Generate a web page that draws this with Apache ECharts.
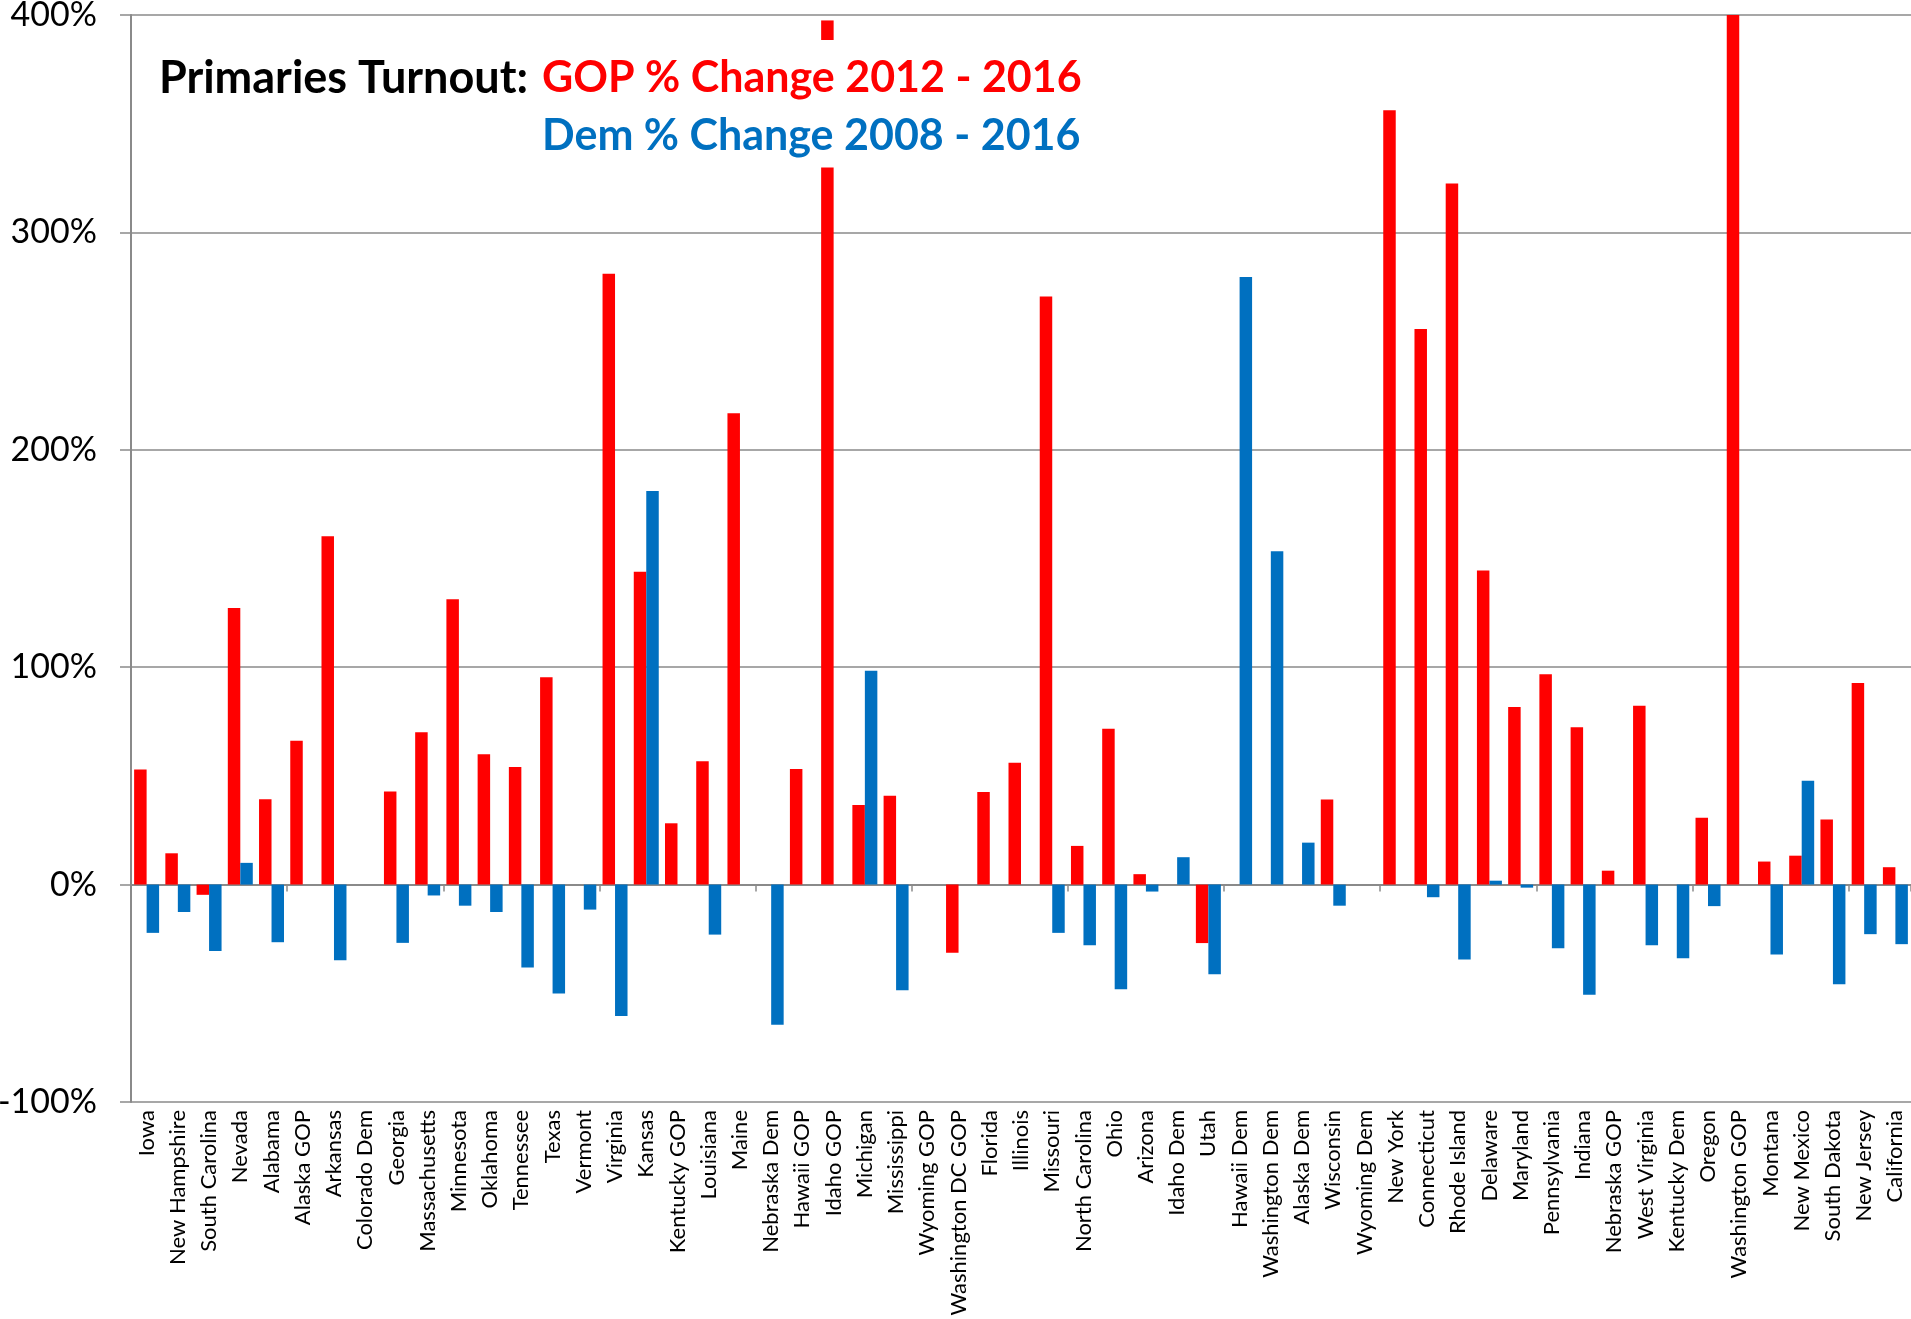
<!DOCTYPE html>
<html>
<head>
<meta charset="utf-8">
<script src="https://cdn.jsdelivr.net/npm/echarts@6/dist/echarts.min.js"></script>
<style>
html,body{margin:0;padding:0;background:#fff;}
#chart{width:1911px;height:1319px;}
</style>
</head>
<body>
<div id="chart"></div>
<script>
const categories = ['Iowa','New Hampshire','South Carolina','Nevada','Alabama','Alaska GOP','Arkansas','Colorado Dem','Georgia','Massachusetts','Minnesota','Oklahoma','Tennessee','Texas','Vermont','Virginia','Kansas','Kentucky GOP','Louisiana','Maine','Nebraska Dem','Hawaii GOP','Idaho GOP','Michigan','Mississippi','Wyoming GOP','Washington DC GOP','Florida','Illinois','Missouri','North Carolina','Ohio','Arizona','Idaho Dem','Utah','Hawaii Dem','Washington Dem','Alaska Dem','Wisconsin','Wyoming Dem','New York','Connecticut','Rhode Island','Delaware','Maryland','Pennsylvania','Indiana','Nebraska GOP','West Virginia','Kentucky Dem','Oregon','Washington GOP','Montana','New Mexico','South Dakota','New Jersey','California'];

const gopChange = [53,14.4,-4.7,127.2,39.3,66.2,160.2,null,42.8,70.1,131.2,60.0,54.1,95.4,null,281,143.9,28.2,56.7,216.8,null,53.2,329.8,36.6,40.9,null,-31.4,42.6,56.0,270.5,17.8,71.7,4.8,null,-26.9,null,null,null,39.1,null,356.2,255.6,322.5,144.5,81.7,96.7,72.4,6.4,82.3,null,30.8,400,10.6,13.3,29.9,92.7,8.0];

const demChange = [-22.2,-12.6,-30.5,10.0,-26.5,null,-34.8,null,-26.8,-5.0,-9.7,-12.6,-38.1,-50.1,-11.5,-60.4,181.0,null,-23.0,null,-64.5,null,null,98.4,-48.6,null,null,null,null,-22.2,-27.9,-48.1,-3.2,12.6,-41.2,279.5,153.3,19.3,-9.7,null,null,-5.8,-34.5,1.8,-1.4,-29.3,-50.7,null,-27.9,-33.9,-9.9,null,-32.2,47.8,-45.8,-22.8,-27.4];

// Axis break drawn on the off-scale Idaho GOP bar: an empty gap, then a short top piece
const gopBreakGap = categories.map(c => c === 'Idaho GOP' ? 58.7 : null);
const gopBreakTop = categories.map(c => c === 'Idaho GOP' ? 9.0 : null);

const yTicks = [-100, 0, 100, 200, 300, 400];

const RED = '#FF0000', BLUE = '#0070C0', GRID = '#8a8a8a';
const FONT = 'Lato, "Open Sans", sans-serif';

const chart = echarts.init(document.getElementById('chart'), null, {renderer:'canvas'});
chart.setOption({
  animation: false,
  backgroundColor: '#fff',
  grid: {left: 131, right: 0, top: 15, bottom: 217, containLabel: false, outerBoundsMode: 'none'},
  graphic: [
    {type:'text', x: 528, y: 78, style:{text:'Primaries Turnout:', fill:'#000', font:'bold 45px ' + FONT, textAlign:'right', textVerticalAlign:'middle'}},
    {type:'text', x: 542, y: 78, style:{text:'GOP % Change 2012 - 2016', fill:RED, font:'bold 43px ' + FONT, textAlign:'left', textVerticalAlign:'middle'}},
    {type:'text', x: 542, y: 136, style:{text:'Dem % Change 2008 - 2016', fill:BLUE, font:'bold 43px ' + FONT, textAlign:'left', textVerticalAlign:'middle'}}
  ],
  xAxis: [
    {
      type:'category', data: categories, position:'bottom',
      axisLine:{show:true, onZero:true, lineStyle:{color:GRID, width:2}},
      axisTick:{show:true, length:7, lineStyle:{color:GRID, width:1.5}},
      axisLabel:{show:false}, splitLine:{show:false}
    },
    {
      type:'category', data: categories, position:'bottom',
      axisLine:{show:false, onZero:false}, axisTick:{show:false},
      axisLabel:{show:true, rotate:90, interval:0, margin:8, color:'#000', fontSize:22, fontFamily:FONT},
      splitLine:{show:false}
    }
  ],
  yAxis: {
    type:'value', min: yTicks[0], max: yTicks[yTicks.length-1], interval: 100,
    axisLine:{show:true, lineStyle:{color:GRID, width:2}},
    axisTick:{show:true, length:11, lineStyle:{color:GRID, width:1.5}},
    axisLabel:{formatter:'{value}%', color:'#000', fontSize:34, fontFamily:FONT, margin:34},
    splitLine:{show:true, lineStyle:{color:GRID, width:1.5}}
  },
  series: [
    {name:'GOP', type:'bar', stack:'gop', xAxisIndex:0, data: gopChange, itemStyle:{color:RED}, barGap:'0%', barCategoryGap:'20%'},
    {name:'GOP break gap', type:'bar', stack:'gop', xAxisIndex:0, data: gopBreakGap, itemStyle:{color:'rgba(0,0,0,0)'}},
    {name:'GOP break top', type:'bar', stack:'gop', xAxisIndex:0, data: gopBreakTop, itemStyle:{color:RED}},
    {name:'Dem', type:'bar', stack:'dem', xAxisIndex:0, data: demChange, itemStyle:{color:BLUE}, barGap:'0%', barCategoryGap:'20%'}
  ]
});
</script>
</body>
</html>
